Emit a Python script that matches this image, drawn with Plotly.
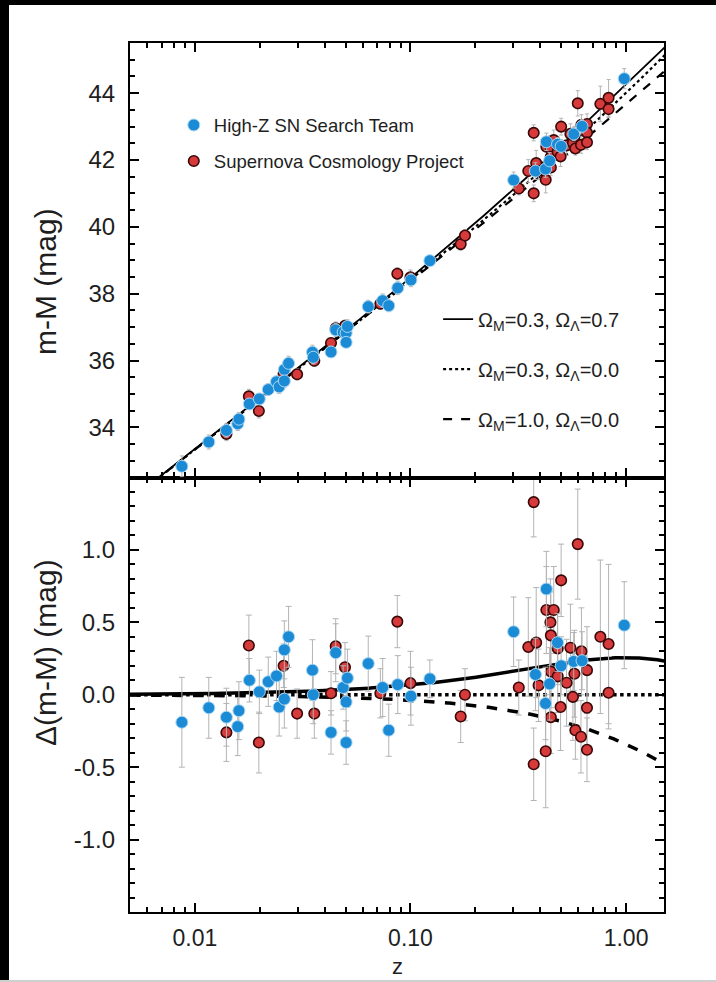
import numpy as np
import plotly.graph_objects as go

# ---------------- data ----------------
# High-Z SN Search Team: redshift, residual Delta(m-M) vs (Om=0.3, OL=0.0), error
hz_z = [0.0087, 0.0116, 0.0140, 0.0158, 0.0160, 0.0179, 0.0199, 0.0219, 0.0239, 0.0246,
        0.0260, 0.0260, 0.0272, 0.0351, 0.0354, 0.0428, 0.0450, 0.0487, 0.0503, 0.0503,
        0.0510, 0.0637, 0.0743, 0.0793, 0.0873, 0.1005, 0.1230,
        0.301, 0.380, 0.423, 0.427, 0.442, 0.481, 0.500, 0.572, 0.625, 0.981]
hz_d = [-0.19, -0.09, -0.155, -0.22, -0.11, 0.10, 0.02, 0.09, 0.13, -0.085,
        0.31, -0.03, 0.40, 0.17, 0.00, -0.26, 0.29, 0.05, -0.05, -0.33,
        0.115, 0.215, 0.05, -0.245, 0.07, -0.01, 0.11,
        0.435, 0.14, -0.06, 0.73, 0.075, 0.36, 0.20, 0.23, 0.235, 0.48]
hz_e = [0.31, 0.21, 0.20, 0.20, 0.20, 0.15, 0.15, 0.17, 0.17, 0.20,
        0.20, 0.20, 0.21, 0.21, 0.20, 0.15, 0.20, 0.15, 0.20, 0.15,
        0.20, 0.19, 0.20, 0.18, 0.20, 0.20, 0.13,
        0.24, 0.25, 0.25, 0.26, 0.25, 0.20, 0.20, 0.20, 0.20, 0.30]

# Supernova Cosmology Project
scp_z = [0.0140, 0.0178, 0.0198, 0.0258, 0.0298, 0.0358, 0.0428, 0.0450, 0.0497, 0.0725,
         0.0869, 0.100, 0.171, 0.179, 0.318, 0.352, 0.373, 0.373, 0.383, 0.393,
         0.424, 0.427, 0.446, 0.448, 0.448, 0.448, 0.462, 0.482, 0.482, 0.497,
         0.500, 0.530, 0.552, 0.567, 0.576, 0.582, 0.597, 0.618, 0.621, 0.659,
         0.659, 0.659, 0.760, 0.830, 0.830]
scp_d = [-0.26, 0.34, -0.33, 0.20, -0.13, -0.13, 0.01, 0.335, 0.19, 0.01,
         0.505, 0.08, -0.15, 0.00, 0.05, 0.33, 1.33, -0.48, 0.36, 0.065,
         -0.39, 0.585, 0.50, 0.41, 0.16, -0.155, 0.585, 0.127, 0.32, -0.085,
         0.79, 0.083, 0.325, -0.015, 0.145, -0.245, 1.04, -0.29, 0.30, 0.17,
         -0.09, -0.38, 0.40, 0.35, 0.014]
scp_e = [0.20, 0.21, 0.21, 0.15, 0.17, 0.17, 0.15, 0.19, 0.17, 0.17,
         0.18, 0.22, 0.18, 0.18, 0.19, 0.34, 0.24, 0.25, 0.38, 0.25,
         0.39, 0.30, 0.30, 0.30, 0.25, 0.25, 0.30, 0.25, 0.25, 0.30,
         0.25, 0.30, 0.30, 0.30, 0.30, 0.20, 0.38, 0.25, 0.30, 0.30,
         0.30, 0.22, 0.53, 0.55, 0.25]

# cosmological models shown (Omega_M, Omega_Lambda)
models = [(0.3, 0.7), (0.3, 0.0), (1.0, 0.0)]
model_dash = ["solid", "dot", "dash"]
model_names = ["\u03a9<sub>M</sub>=0.3, \u03a9<sub>\u039b</sub>=0.7",
               "\u03a9<sub>M</sub>=0.3, \u03a9<sub>\u039b</sub>=0.0",
               "\u03a9<sub>M</sub>=1.0, \u03a9<sub>\u039b</sub>=0.0"]
H0 = 65.0
ref_model = (0.3, 0.0)

x_ticks = [0.01, 0.1, 1.0]
x_ticktext = ["0.01", "0.10", "1.00"]
top_ticks = [34, 36, 38, 40, 42, 44]
bot_ticks = [-1.0, -0.5, 0.0, 0.5, 1.0]
bot_ticktext = ["-1.0", "-0.5", "0.0", "0.5", "1.0"]


# ---------------- cosmology ----------------
def distance_modulus(z, om, ol, h0=H0):
    z = np.asarray(z, dtype=float)
    zz = np.linspace(0.0, 1.6, 16001)
    ok = 1.0 - om - ol
    E = np.sqrt(om * (1 + zz) ** 3 + ok * (1 + zz) ** 2 + ol)
    dc = np.concatenate([[0.0], np.cumsum(0.5 * (1 / E[1:] + 1 / E[:-1]) * np.diff(zz))])
    dcz = np.interp(z, zz, dc)
    if ok > 1e-9:
        dm = np.sinh(np.sqrt(ok) * dcz) / np.sqrt(ok)
    elif ok < -1e-9:
        dm = np.sin(np.sqrt(-ok) * dcz) / np.sqrt(-ok)
    else:
        dm = dcz
    dl = 299792.458 / h0 * (1 + z) * dm
    return 5 * np.log10(dl) + 25


zcurve = np.logspace(np.log10(0.004), np.log10(1.6), 400)
mu_ref_curve = distance_modulus(zcurve, *ref_model)

hz_mu = distance_modulus(hz_z, *ref_model) + np.array(hz_d)
scp_mu = distance_modulus(scp_z, *ref_model) + np.array(scp_d)

fig = go.Figure()

BLUE = "#1b8bd6"
BLUE_EDGE = "#a9d6f2"
RED = "#d63a3a"
RED_EDGE = "#3a0808"
ERR = "#b3b3b3"
FONT = "Liberation Sans, Arial, Helvetica, sans-serif"
TXT = "#1e1e1e"

# model curves
for i, (om, ol) in enumerate(models):
    mu = distance_modulus(zcurve, om, ol)
    fig.add_trace(go.Scatter(x=zcurve, y=mu, mode="lines", xaxis="x2", yaxis="y2",
                             line=dict(color="black", width=1.8 if i == 0 else 2.2, dash=model_dash[i]),
                             name=model_names[i], legend="legend2", legendgroup="m%d" % i,
                             legendrank=10 + i, hoverinfo="skip"))
    fig.add_trace(go.Scatter(x=zcurve, y=mu - mu_ref_curve, mode="lines", xaxis="x", yaxis="y",
                             line=dict(color="black", width=3.5, dash=model_dash[i]),
                             showlegend=False, hoverinfo="skip"))

# data: SCP (red) below HZT (blue)
for (zs, mus, ds, es, col, edge, nm, sz, lw, rank) in [
        (scp_z, scp_mu, scp_d, scp_e, RED, RED_EDGE, "Supernova Cosmology Project", 10.5, 1.6, 2),
        (hz_z, hz_mu, hz_d, hz_e, BLUE, BLUE_EDGE, "High-Z SN Search Team", 12, 1.0, 1)]:
    fig.add_trace(go.Scatter(x=zs, y=mus, mode="markers", xaxis="x2", yaxis="y2",
                             marker=dict(color=col, size=sz, line=dict(color=edge, width=lw)),
                             error_y=dict(type="data", array=es, color=ERR, thickness=1, width=2),
                             name=nm, legend="legend", legendgroup=nm, legendrank=rank))
    fig.add_trace(go.Scatter(x=zs, y=ds, mode="markers", xaxis="x", yaxis="y",
                             marker=dict(color=col, size=sz, line=dict(color=edge, width=lw)),
                             error_y=dict(type="data", array=es, color=ERR, thickness=1, width=3),
                             showlegend=False))

minor_x = [k * 10.0 ** p for p in range(-3, 1) for k in range(2, 10)
           if 0.005 <= k * 10.0 ** p <= 1.5]

axis_common = dict(showline=True, linecolor="black", linewidth=2.2, mirror="allticks",
                   ticks="inside", ticklen=9, tickwidth=2.2, tickcolor="black",
                   showgrid=False, zeroline=False,
                   tickfont=dict(family=FONT, size=24, color=TXT))
xr = [np.log10(0.005), np.log10(1.5)]
minor_style = dict(ticks="inside", ticklen=5, tickwidth=1.6, tickcolor="black")

fig.update_layout(
    width=716, height=982,
    margin=dict(l=130, r=52, t=43, b=70),
    paper_bgcolor="white", plot_bgcolor="white",
    font=dict(family=FONT, color=TXT),
    xaxis=dict(type="log", range=xr, domain=[0, 1], anchor="y",
               tickvals=x_ticks, ticktext=x_ticktext, ticklabelstandoff=4,
               minor=dict(tickvals=minor_x, **minor_style),
               **{**axis_common, "tickfont": dict(family=FONT, size=23, color=TXT)}),
    xaxis2=dict(type="log", range=xr, domain=[0, 1], anchor="y2", matches="x",
                tickvals=x_ticks, showticklabels=False,
                minor=dict(tickvals=minor_x, **minor_style), **axis_common),
    yaxis=dict(domain=[0, 0.5], range=[-1.5, 1.5], anchor="x",
               tickvals=bot_ticks, ticktext=bot_ticktext, ticklabelstandoff=8,
               minor=dict(dtick=0.1, **minor_style), **axis_common),
    yaxis2=dict(domain=[0.5, 1], range=[32.5, 45.5], anchor="x2",
                tickvals=top_ticks, ticklabelstandoff=8,
                minor=dict(dtick=0.5, **minor_style), **axis_common),
    legend=dict(x=0.082, y=0.927, xanchor="left", yanchor="top", bgcolor="rgba(0,0,0,0)",
                font=dict(family=FONT, size=18.5, color=TXT), tracegroupgap=9,
                traceorder="grouped", itemwidth=30),
    legend2=dict(x=0.577, y=0.7046, xanchor="left", yanchor="top", bgcolor="rgba(0,0,0,0)",
                 font=dict(family=FONT, size=20, color=TXT), tracegroupgap=21,
                 traceorder="grouped", itemwidth=30),
    annotations=[
        dict(text="m-M (mag)", textangle=-90, xref="paper", yref="paper",
             x=(45 - 130) / 534, y=(982 - 70 - 282) / 869, showarrow=False,
             xanchor="center", yanchor="middle",
             font=dict(family=FONT, size=30, color=TXT)),
        dict(text="\u0394(m-M) (mag)", textangle=-90, xref="paper", yref="paper",
             x=(45 - 130) / 534, y=(982 - 70 - 653) / 869, showarrow=False,
             xanchor="center", yanchor="middle",
             font=dict(family=FONT, size=30, color=TXT)),
        dict(text="z", xref="paper", yref="paper", x=(397 - 130) / 534,
             y=(982 - 70 - 967) / 869, showarrow=False,
             xanchor="center", yanchor="middle",
             font=dict(family=FONT, size=22, color=TXT)),
    ],
    shapes=[
        dict(type="rect", xref="paper", yref="paper", x0=-130 / 534, x1=(9 - 130) / 534,
             y0=-70 / 869, y1=912 / 869, fillcolor="black", line=dict(width=0), layer="above"),
        dict(type="rect", xref="paper", yref="paper", x0=-130 / 534, x1=586 / 534,
             y0=(912 - 5) / 869, y1=912 / 869, fillcolor="black", line=dict(width=0), layer="above"),
        dict(type="rect", xref="paper", yref="paper", x0=-130 / 534, x1=586 / 534,
             y0=-70 / 869, y1=-68 / 869, fillcolor="#cfcfcf", line=dict(width=0), layer="above"),
    ],
    showlegend=True,
)

fig.write_html("out.html")
